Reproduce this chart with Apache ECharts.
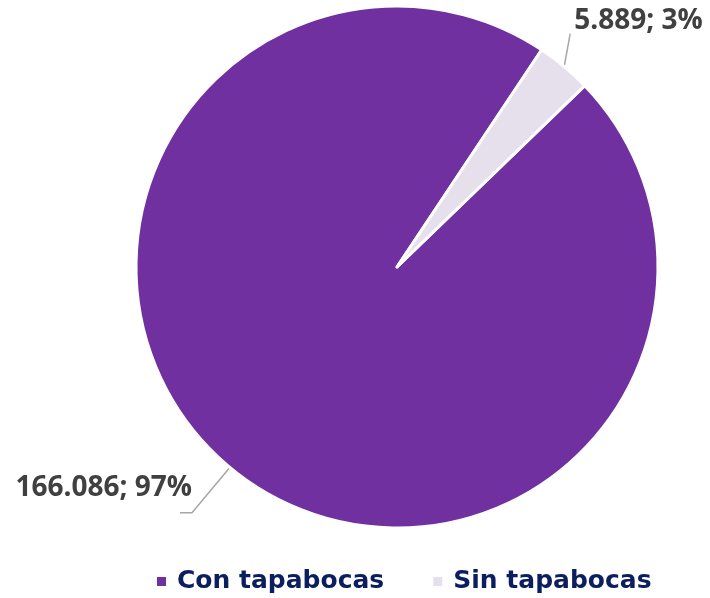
<!DOCTYPE html>
<html>
<head>
<meta charset="utf-8">
<script src="https://cdn.jsdelivr.net/npm/echarts@6/dist/echarts.min.js"></script>
<style>html,body{margin:0;padding:0;background:#fff}#chart{width:710px;height:598px}</style>
</head>
<body>
<div id="chart"></div>
<script>
const categories = ['Con tapabocas', 'Sin tapabocas'];
const values = [166086, 5889];
const colors = ['#7030A0', '#E6E0EC'];

function fmtNum(n) {
  return String(n).replace(/\B(?=(\d{3})+(?!\d))/g, '.');
}

const chart = echarts.init(document.getElementById('chart'));
chart.setOption({
  animation: false,
  color: colors,
  legend: {
    data: categories,
    left: 150,
    top: 564,
    icon: 'rect',
    itemWidth: 11,
    itemHeight: 11,
    itemGap: 47,
    textStyle: { fontFamily: 'DejaVu Sans', fontWeight: 'bold', fontSize: 25, color: '#0B1F5E', padding: [0, 0, 0, 5] }
  },
  series: [{
    type: 'pie',
    center: [397, 267],
    radius: 261,
    startAngle: 44,
    clockwise: true,
    itemStyle: { borderColor: '#fff', borderWidth: 3 },
    label: {
      show: true,
      position: 'outside',
      overflow: 'none',
      formatter: p => fmtNum(p.value) + '; ' + Math.round(p.percent) + '%',
      fontFamily: 'Open Sans',
      fontWeight: 'bold',
      fontSize: 28,
      color: '#404040'
    },
    labelLine: { show: true, length: 59, length2: 12, lineStyle: { color: '#A6A6A6', width: 1.5 } },
    labelLayout: function (p) {
      const pts = p.labelLinePoints;
      if (!pts) return {};
      if (p.dataIndex === 0) {
        return {
          x: pts[2][0] + 12, y: pts[2][1] - 25,
          align: 'right', verticalAlign: 'middle',
          labelLinePoints: pts
        };
      } else {
        const s = pts[0];
        return {
          x: s[0] + 10, y: s[1] - 46,
          align: 'left', verticalAlign: 'middle',
          labelLinePoints: [s, [s[0] + 6, s[1] - 33]]
        };
      }
    },
    data: categories.map((c, i) => ({ name: c, value: values[i] }))
  }]
});
</script>
</body>
</html>
